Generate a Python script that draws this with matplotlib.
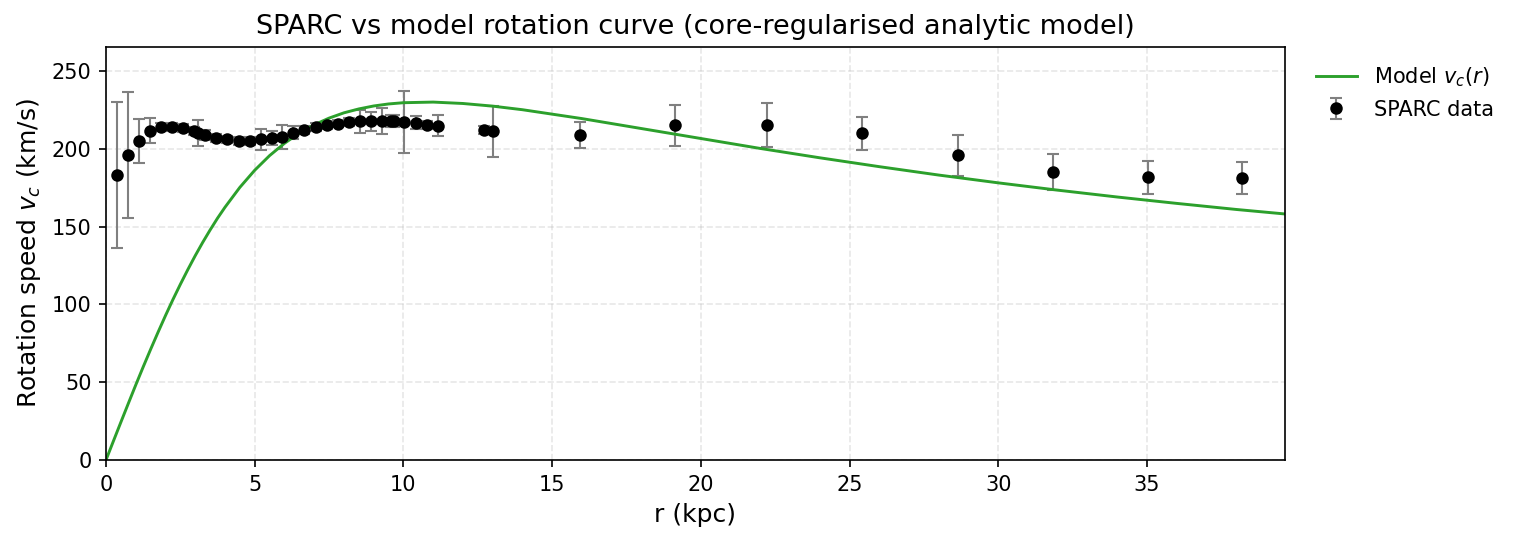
import numpy as np
import matplotlib
matplotlib.use("Agg")
import matplotlib.pyplot as plt

# SPARC points (r in kpc, v and err in km/s)
r_data = [0.38, 0.75, 1.12, 1.48, 1.85, 2.22, 2.59, 2.97, 3.10, 3.34,
          3.71, 4.08, 4.46, 4.83, 5.20, 5.57, 5.93, 6.30, 6.67, 7.06,
          7.42, 7.80, 8.17, 8.54, 8.92, 9.29, 9.58, 9.68, 10.02, 10.41,
          10.78, 11.17, 12.71, 13.02, 15.92, 19.14, 22.22, 25.43, 28.65,
          31.84, 35.05, 38.18]
v_data = [183.2, 196.0, 205.0, 211.6, 213.8, 213.8, 213.1, 211.4, 210.0, 208.9,
          206.7, 206.0, 205.0, 205.0, 206.0, 206.7, 207.8, 210.2, 212.0, 214.0,
          215.3, 216.2, 217.0, 217.7, 217.7, 217.7, 217.7, 217.7, 217.2, 216.8,
          215.5, 214.9, 212.1, 211.4, 208.9, 215.1, 215.1, 209.9, 195.8,
          184.9, 181.7, 181.0]
e_data = [47.0, 40.5, 14.0, 8.0, 2.5, 2.5, 2.5, 2.5, 8.5, 3.0,
          2.5, 2.5, 2.5, 2.5, 7.0, 4.5, 7.7, 4.2, 2.5, 2.5,
          2.5, 2.5, 2.5, 7.5, 6.2, 8.2, 4.0, 4.0, 20.0, 4.0,
          2.5, 6.6, 2.5, 16.4, 8.4, 13.1, 14.0, 10.5, 13.0,
          11.5, 10.6, 10.3]

# model curve values
r_model = [0.0, 0.25, 0.5, 0.75, 1.0, 1.25, 1.5, 1.75, 2.0, 2.25, 2.5, 2.75,
           3.0, 3.25, 3.5, 3.75, 4.0, 4.5, 5.0, 5.5, 6.0, 6.5, 7.0, 7.5,
           8.0, 8.5, 9.0, 9.5, 10.0, 11.0, 12.0, 13.0, 14.0, 16.0, 18.0,
           20.0, 22.0, 24.0, 26.0, 28.0, 30.0, 32.0, 34.0, 36.0, 38.0, 39.64]
v_model = [0.0, 12.2, 24.3, 36.3, 48.2, 59.8, 71.1, 82.1, 92.8, 103.1, 112.9,
           122.3, 131.3, 139.8, 147.8, 155.4, 162.4, 175.2, 186.2, 195.6,
           203.5, 210.1, 215.4, 219.7, 223.1, 225.6, 227.5, 228.8, 229.6,
           230.0, 229.1, 227.4, 225.1, 219.4, 213.0, 206.6, 200.2, 194.2,
           188.5, 183.1, 178.1, 173.4, 169.0, 164.9, 161.0, 158.1]

fig = plt.figure(figsize=(1517 / 150, 542 / 150), dpi=150)
ax = fig.add_axes([106 / 1517, 1 - 460 / 542, (1285 - 106) / 1517, (460 - 47) / 542])

eb = ax.errorbar(r_data, v_data, yerr=e_data, fmt='o', color='black',
                 markersize=5, ecolor='gray', elinewidth=1, capsize=3,
                 label='SPARC data')
line, = ax.plot(r_model, v_model, color='#2ca02c', linewidth=1.4,
                label=r'Model $v_c(r)$')

ax.set_xlim(0, 39.64)
ax.set_ylim(0, 265.4)
ax.grid(True, linestyle='--', alpha=0.3)

ax.set_title('SPARC vs model rotation curve (core-regularised analytic model)', fontsize=13)
ax.set_xlabel('r (kpc)', fontsize=12)
ax.set_ylabel(r'Rotation speed $v_c$ (km/s)', fontsize=12)

ax.legend(handles=[line, eb], loc='upper left', bbox_to_anchor=(1.01, 1.0),
          frameon=False, fontsize=10)

fig.savefig('out.png', dpi=150)
